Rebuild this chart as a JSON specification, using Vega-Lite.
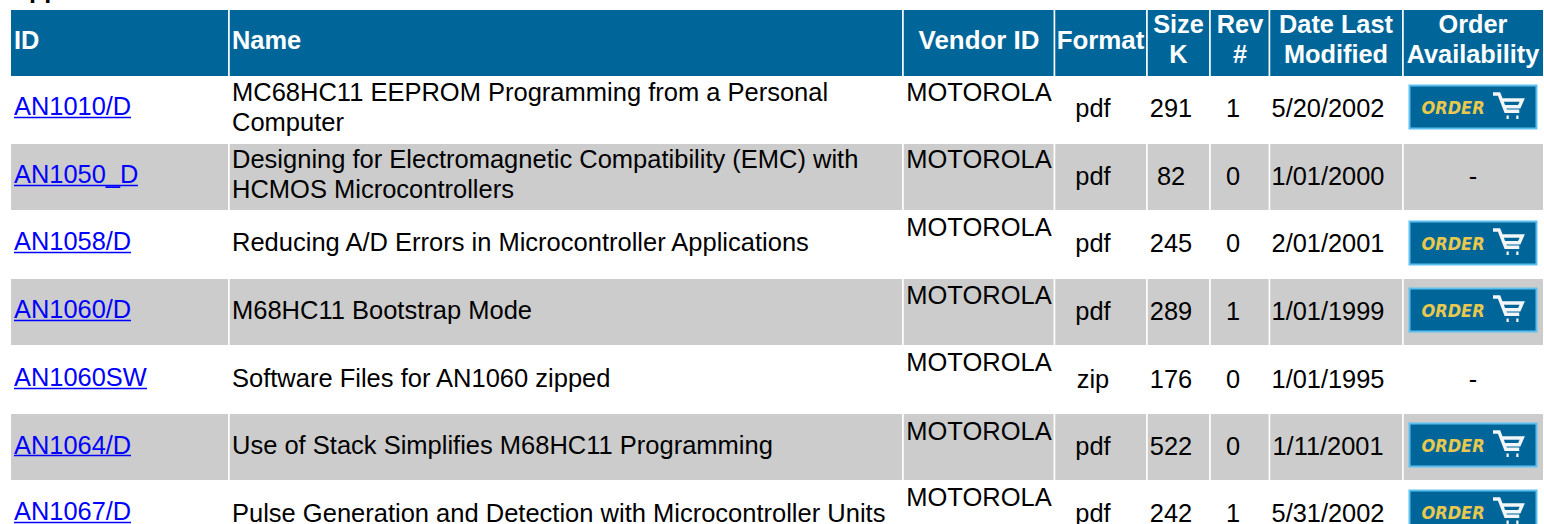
{
"$schema":"https://vega.github.io/schema/vega-lite/v6.json",
"width":1544,"height":524,"padding":0,"autosize":{"type":"none"},
"background":"white",
"config":{"view":{"stroke":null},"text":{"font":"Liberation Sans"}},
"datasets":{
"fills":[
{"r":0,"r2":1,"c":0,"c2":1,"kind":"header"},{"r":0,"r2":1,"c":1,"c2":2,"kind":"header"},{"r":0,"r2":1,"c":2,"c2":3,"kind":"header"},{"r":0,"r2":1,"c":3,"c2":4,"kind":"header"},{"r":0,"r2":1,"c":4,"c2":5,"kind":"header"},{"r":0,"r2":1,"c":5,"c2":6,"kind":"header"},{"r":0,"r2":1,"c":6,"c2":7,"kind":"header"},{"r":0,"r2":1,"c":7,"c2":8,"kind":"header"},
{"r":2,"r2":3,"c":0,"c2":1,"kind":"gray"},{"r":2,"r2":3,"c":1,"c2":2,"kind":"gray"},{"r":2,"r2":3,"c":2,"c2":3,"kind":"gray"},{"r":2,"r2":3,"c":3,"c2":4,"kind":"gray"},{"r":2,"r2":3,"c":4,"c2":5,"kind":"gray"},{"r":2,"r2":3,"c":5,"c2":6,"kind":"gray"},{"r":2,"r2":3,"c":6,"c2":7,"kind":"gray"},{"r":2,"r2":3,"c":7,"c2":8,"kind":"gray"},
{"r":4,"r2":5,"c":0,"c2":1,"kind":"gray"},{"r":4,"r2":5,"c":1,"c2":2,"kind":"gray"},{"r":4,"r2":5,"c":2,"c2":3,"kind":"gray"},{"r":4,"r2":5,"c":3,"c2":4,"kind":"gray"},{"r":4,"r2":5,"c":4,"c2":5,"kind":"gray"},{"r":4,"r2":5,"c":5,"c2":6,"kind":"gray"},{"r":4,"r2":5,"c":6,"c2":7,"kind":"gray"},{"r":4,"r2":5,"c":7,"c2":8,"kind":"gray"},
{"r":6,"r2":7,"c":0,"c2":1,"kind":"gray"},{"r":6,"r2":7,"c":1,"c2":2,"kind":"gray"},{"r":6,"r2":7,"c":2,"c2":3,"kind":"gray"},{"r":6,"r2":7,"c":3,"c2":4,"kind":"gray"},{"r":6,"r2":7,"c":4,"c2":5,"kind":"gray"},{"r":6,"r2":7,"c":5,"c2":6,"kind":"gray"},{"r":6,"r2":7,"c":6,"c2":7,"kind":"gray"},{"r":6,"r2":7,"c":7,"c2":8,"kind":"gray"}
],
"header":[
{"c":0,"text":"ID"},{"c":1,"text":"Name"},{"c":2,"text":"Vendor ID"},{"c":3,"text":"Format"},{"c":4,"text":"Size\nK"},{"c":5,"text":"Rev\n#"},{"c":6,"text":"Date Last\nModified"},{"c":7,"text":"Order\nAvailability"}
],
"heading":[{"text":"Application Notes"}],
"cells":[
{"row":1,"c":0,"text":"AN1010/D"},{"row":1,"c":1,"text":"MC68HC11 EEPROM Programming from a Personal\nComputer"},{"row":1,"c":2,"text":"MOTOROLA"},{"row":1,"c":3,"text":"pdf"},{"row":1,"c":4,"text":"291"},{"row":1,"c":5,"text":"1"},{"row":1,"c":6,"text":"5/20/2002"},{"row":1,"c":7,"text":"ORDER"},
{"row":2,"c":0,"text":"AN1050_D"},{"row":2,"c":1,"text":"Designing for Electromagnetic Compatibility (EMC) with\nHCMOS Microcontrollers"},{"row":2,"c":2,"text":"MOTOROLA"},{"row":2,"c":3,"text":"pdf"},{"row":2,"c":4,"text":"82"},{"row":2,"c":5,"text":"0"},{"row":2,"c":6,"text":"1/01/2000"},{"row":2,"c":7,"text":"-"},
{"row":3,"c":0,"text":"AN1058/D"},{"row":3,"c":1,"text":"Reducing A/D Errors in Microcontroller Applications"},{"row":3,"c":2,"text":"MOTOROLA"},{"row":3,"c":3,"text":"pdf"},{"row":3,"c":4,"text":"245"},{"row":3,"c":5,"text":"0"},{"row":3,"c":6,"text":"2/01/2001"},{"row":3,"c":7,"text":"ORDER"},
{"row":4,"c":0,"text":"AN1060/D"},{"row":4,"c":1,"text":"M68HC11 Bootstrap Mode"},{"row":4,"c":2,"text":"MOTOROLA"},{"row":4,"c":3,"text":"pdf"},{"row":4,"c":4,"text":"289"},{"row":4,"c":5,"text":"1"},{"row":4,"c":6,"text":"1/01/1999"},{"row":4,"c":7,"text":"ORDER"},
{"row":5,"c":0,"text":"AN1060SW"},{"row":5,"c":1,"text":"Software Files for AN1060 zipped"},{"row":5,"c":2,"text":"MOTOROLA"},{"row":5,"c":3,"text":"zip"},{"row":5,"c":4,"text":"176"},{"row":5,"c":5,"text":"0"},{"row":5,"c":6,"text":"1/01/1995"},{"row":5,"c":7,"text":"-"},
{"row":6,"c":0,"text":"AN1064/D"},{"row":6,"c":1,"text":"Use of Stack Simplifies M68HC11 Programming"},{"row":6,"c":2,"text":"MOTOROLA"},{"row":6,"c":3,"text":"pdf"},{"row":6,"c":4,"text":"522"},{"row":6,"c":5,"text":"0"},{"row":6,"c":6,"text":"1/11/2001"},{"row":6,"c":7,"text":"ORDER"},
{"row":7,"c":0,"text":"AN1067/D"},{"row":7,"c":1,"text":"Pulse Generation and Detection with Microcontroller Units"},{"row":7,"c":2,"text":"MOTOROLA"},{"row":7,"c":3,"text":"pdf"},{"row":7,"c":4,"text":"242"},{"row":7,"c":5,"text":"1"},{"row":7,"c":6,"text":"5/31/2002"},{"row":7,"c":7,"text":"ORDER"}
]},
"resolve":{"scale":{"x":"independent","y":"independent","size":"independent","color":"independent"}},
"layer":[
{"data":{"name":"fills"},
 "mark":{"type":"rect","stroke":"white","strokeWidth":1.5},
 "encoding":{
  "x":{"field":"c","type":"quantitative","axis":null,"scale":{"domain":[0,1,2,3,4,5,6,7,8],"range":[10.25,229,903,1054.5,1147,1210,1269.5,1403,1543.75]}},
  "x2":{"field":"c2"},
  "y":{"field":"r","type":"quantitative","axis":null,"scale":{"domain":[0,1,2,3,4,5,6,7],"range":[9.25,76.75,143.25,210.75,278.25,345.75,413.25,480.75]}},
  "y2":{"field":"r2"},
  "color":{"field":"kind","type":"nominal","legend":null,"scale":{"domain":["header","gray"],"range":["#006699","#cccccc"]}}}},
{"data":{"name":"heading"},
 "mark":{"type":"text","align":"left","baseline":"alphabetic","fontSize":25,"fontWeight":"bold","color":"#000000","x":11,"y":-2},
 "encoding":{"text":{"field":"text"}}},
{"data":{"name":"header"},"transform":[{"filter":{"field":"c","oneOf":[0,1]}}],
 "mark":{"type":"text","align":"left","baseline":"alphabetic","fontSize":25.4,"fontWeight":"bold","color":"white","y":49},
 "encoding":{"text":{"field":"text"},
  "x":{"field":"c","type":"quantitative","axis":null,"scale":{"domain":[0,1],"range":[14,232]}}}},
{"data":{"name":"header"},"transform":[{"filter":{"field":"c","oneOf":[2,3]}}],
 "mark":{"type":"text","align":"center","baseline":"alphabetic","fontSize":25.9,"fontWeight":"bold","color":"white","y":49},
 "encoding":{"text":{"field":"text"},
  "x":{"field":"c","type":"quantitative","axis":null,"scale":{"domain":[2,3],"range":[979,1100.5]}}}},
{"data":{"name":"header"},"transform":[{"filter":{"field":"c","oneOf":[4,5,6,7]}}],
 "mark":{"type":"text","align":"center","baseline":"alphabetic","fontSize":25.3,"fontWeight":"bold","color":"white","lineBreak":"\n","lineHeight":30,"y":33},
 "encoding":{"text":{"field":"text"},
  "x":{"field":"c","type":"quantitative","axis":null,"scale":{"domain":[4,5,6,7],"range":[1178.5,1240,1336,1473]}}}},
{"data":{"name":"cells"},"transform":[{"filter":{"field":"c","equal":0}}],
 "mark":{"type":"text","align":"left","baseline":"alphabetic","fontSize":25.4,"color":"#0000ff","x":14},
 "encoding":{"text":{"field":"text"},
  "y":{"field":"row","type":"quantitative","axis":null,"scale":{"domain":[1,2,3,4,5,6,7],"range":[115,183,250,318,386,454,520]}}}},
{"data":{"name":"cells"},"transform":[{"filter":{"field":"c","equal":0}}],
 "mark":{"type":"tick","orient":"horizontal","color":"#0000ff","thickness":1.6,"opacity":1},
 "encoding":{
  "x":{"field":"row","type":"quantitative","axis":null,"scale":{"domain":[1,2,3,4,5,6,7],"range":[72.5,76,72.5,72.5,80.5,72.5,72.5]}},
  "size":{"field":"row","type":"quantitative","legend":null,"scale":{"domain":[1,2,3,4,5,6,7],"range":[117,124,117,117,133,117,117]}},
  "y":{"field":"row","type":"quantitative","axis":null,"scale":{"domain":[1,2,3,4,5,6,7],"range":[117.5,185.5,252.5,320.5,388.5,455.5,522.5]}}}},
{"data":{"name":"cells"},"transform":[{"filter":{"field":"c","equal":1}}],
 "mark":{"type":"text","align":"left","baseline":"alphabetic","fontSize":25.5,"color":"#000000","lineBreak":"\n","lineHeight":30,"x":232},
 "encoding":{"text":{"field":"text"},
  "y":{"field":"row","type":"quantitative","axis":null,"scale":{"domain":[1,2,3,4,5,6,7],"range":[101,168,251,319,387,454,522]}}}},
{"data":{"name":"cells"},"transform":[{"filter":{"field":"c","equal":2}}],
 "mark":{"type":"text","align":"center","baseline":"alphabetic","fontSize":25.5,"color":"#000000","x":979},
 "encoding":{"text":{"field":"text"},
  "y":{"field":"row","type":"quantitative","axis":null,"scale":{"domain":[1,2,3,4,5,6,7],"range":[101,168,236,304,371,440,506]}}}},
{"data":{"name":"cells"},"transform":[{"filter":{"field":"c","oneOf":[3,4,5,6,7]}},{"filter":"datum.text!='ORDER'"}],
 "mark":{"type":"text","align":"center","baseline":"alphabetic","fontSize":25.4,"color":"#000000"},
 "encoding":{"text":{"field":"text"},
  "x":{"field":"c","type":"quantitative","axis":null,"scale":{"domain":[3,4,5,6,7],"range":[1093,1171,1233,1328,1473]}},
  "y":{"field":"row","type":"quantitative","axis":null,"scale":{"domain":[1,2,3,4,5,6,7],"range":[117,185,252,320,388,455,522]}}}},
{"data":{"name":"cells"},"transform":[{"filter":"datum.text=='ORDER'"}],
 "mark":{"type":"point","filled":false,"shape":"M-1,-0.34H1V0.34H-1Z","size":16129,"fill":"#006699","fillOpacity":1,"stroke":"#5cc0ee","strokeWidth":2,"opacity":1,"x":1473},
 "encoding":{
  "y":{"field":"row","type":"quantitative","axis":null,"scale":{"domain":[1,3,4,6,7],"range":[107,243,310,445,512]}}}},
{"data":{"name":"cells"},"transform":[{"filter":"datum.text=='ORDER'"}],
 "mark":{"type":"text","align":"center","baseline":"alphabetic","fontSize":18,"fontWeight":"bold","fontStyle":"italic","font":"DejaVu Sans Condensed, Liberation Sans","color":"#e8c84f","x":1453},
 "encoding":{"text":{"field":"text"},
  "y":{"field":"row","type":"quantitative","axis":null,"scale":{"domain":[1,3,4,6,7],"range":[114,250,317,452,519]}}}},
{"data":{"name":"cells"},"transform":[{"filter":"datum.text=='ORDER'"}],
 "mark":{"type":"point","filled":false,"shape":"M-1,-0.8H-0.6L-0.15,0.35H0.75M-0.45,-0.4H0.95L0.75,0.05H-0.25M-0.1,0.75H0.05M0.55,0.75H0.7","size":900,"fillOpacity":0,"stroke":"#f2f6f8","strokeWidth":3.4,"opacity":1,"x":1508},
 "encoding":{
  "y":{"field":"row","type":"quantitative","axis":null,"scale":{"domain":[1,3,4,6,7],"range":[106,242,309,444,511]}}}}
]}
